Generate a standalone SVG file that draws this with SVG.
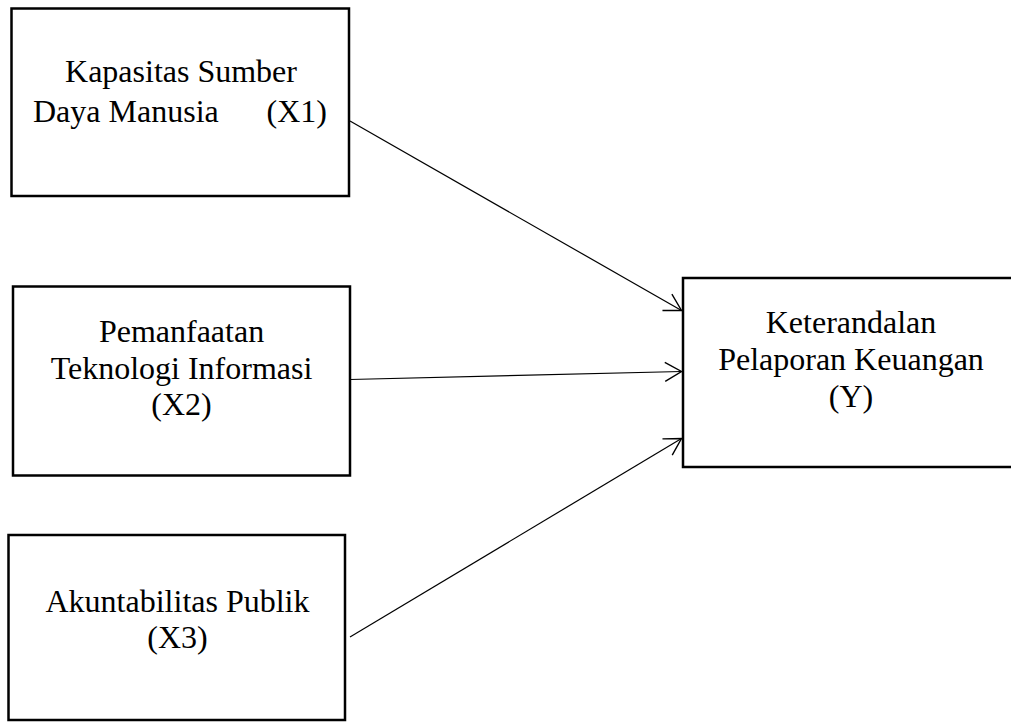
<svg xmlns="http://www.w3.org/2000/svg" width="1011" height="722" viewBox="0 0 1011 722">
<style>
.box{fill:#fff;stroke:#000;stroke-width:2.5}
.lbl{font-family:"Liberation Serif","Times New Roman",serif;font-size:32px;fill:#000;text-anchor:middle}
.conn{stroke:#000;stroke-width:1.2;fill:none}
</style>
<defs>
<marker id="arr" markerUnits="userSpaceOnUse" markerWidth="30" markerHeight="30" viewBox="-25 -15 30 30" refX="0" refY="0" orient="auto">
<path d="M-16.5,-9.5 L0,0 L-16.5,9.5" fill="none" stroke="#000" stroke-width="1.4"/>
</marker>
</defs>
<rect width="1011" height="722" fill="#fff"/>
<g id="x1">
<rect class="box" x="11.5" y="8.5" width="337.5" height="187.5"/>
<text class="lbl" x="181" y="82">Kapasitas Sumber</text>
<text class="lbl" style="text-anchor:start" x="33" y="122">Daya Manusia</text>
<text class="lbl" style="text-anchor:end" x="327" y="122">(X1)</text>
</g>
<g id="x2">
<rect class="box" x="13" y="286.5" width="337" height="189"/>
<text class="lbl" x="181.5" y="342">Pemanfaatan</text>
<text class="lbl" x="181.5" y="379">Teknologi Informasi</text>
<text class="lbl" x="181.5" y="415">(X2)</text>
</g>
<g id="x3">
<rect class="box" x="8.5" y="535" width="336.5" height="185"/>
<text class="lbl" x="177.5" y="612">Akuntabilitas Publik</text>
<text class="lbl" x="177.5" y="648">(X3)</text>
</g>
<g id="y">
<rect class="box" x="683" y="278" width="340" height="189"/>
<text class="lbl" x="851" y="333">Keterandalan</text>
<text class="lbl" x="851" y="370">Pelaporan Keuangan</text>
<text class="lbl" x="851" y="407">(Y)</text>
</g>
<g id="connectors">
<line class="conn" x1="350" y1="121" x2="681.5" y2="310.5" marker-end="url(#arr)"/>
<line class="conn" x1="350" y1="379.5" x2="681.5" y2="371.5" marker-end="url(#arr)"/>
<line class="conn" x1="350" y1="637" x2="681.5" y2="438.5" marker-end="url(#arr)"/>
</g>
</svg>
